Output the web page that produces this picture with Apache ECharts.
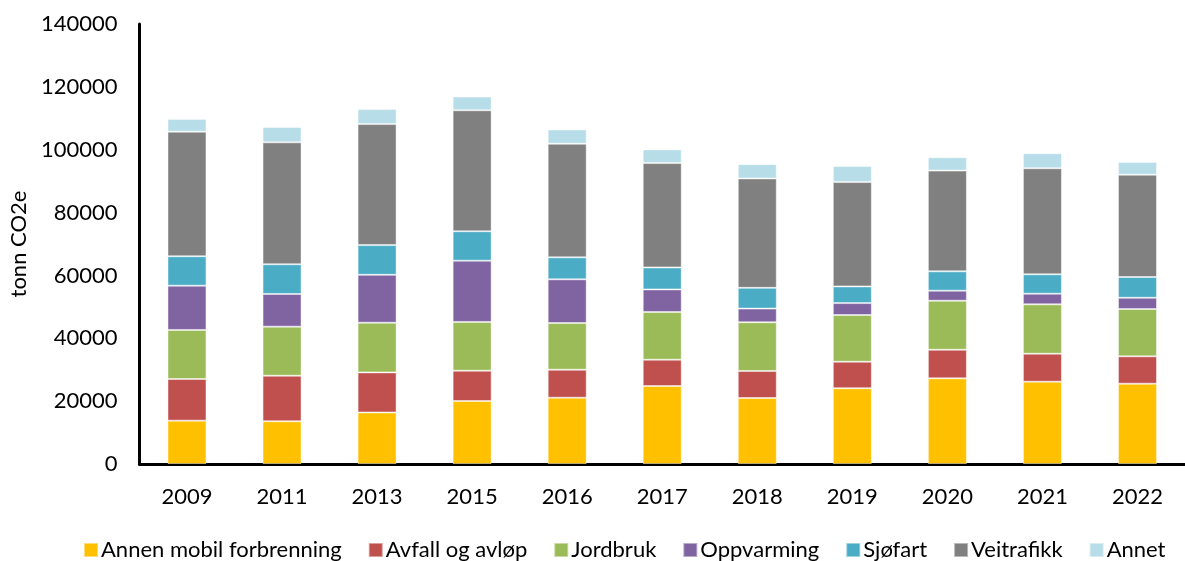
<!DOCTYPE html>
<html>
<head>
<meta charset="utf-8">
<script src="https://cdn.jsdelivr.net/npm/echarts@6/dist/echarts.min.js"></script>
<style>
  html, body { margin: 0; padding: 0; background: #fff; }
  #chart { width: 1185px; height: 561px; }
</style>
</head>
<body>
<div id="chart"></div>
<script>
var years = ['2009', '2011', '2013', '2015', '2016', '2017', '2018', '2019', '2020', '2021', '2022'];

var annenMobil  = [13800, 13600, 16400, 20050, 21100, 24800, 21000, 24100, 27250, 26200, 25550];
var avfall      = [13250, 14500, 12750, 9650, 8900, 8400, 8600, 8450, 9100, 8900, 8700];
var jordbruk    = [15600, 15600, 15800, 15500, 14850, 15150, 15500, 14850, 15600, 15700, 15050];
var oppvarming  = [14100, 10400, 15250, 19500, 13900, 7200, 4350, 3800, 3200, 3400, 3600];
var sjofart     = [9350, 9450, 9450, 9350, 7000, 7000, 6600, 5300, 6150, 6150, 6600];
var veitrafikk  = [39650, 38800, 38500, 38500, 36150, 33200, 34800, 33200, 32050, 33750, 32550];
var annet       = [4050, 4900, 4770, 4350, 4550, 4350, 4550, 5100, 4250, 4800, 4050];

var seriesNames = ['Annen mobil forbrenning', 'Avfall og avløp', 'Jordbruk', 'Oppvarming', 'Sjøfart', 'Veitrafikk', 'Annet'];
var seriesData = [annenMobil, avfall, jordbruk, oppvarming, sjofart, veitrafikk, annet];
var colors = ['#FFC000', '#C0504D', '#9BBB59', '#8064A2', '#4BACC6', '#808080', '#B7DEE8'];

var FONT = 'Lato';

function buildSeries() {
    return seriesNames.map(function (name, i) {
        return {
            name: name,
            type: 'bar',
            stack: 'total',
            barWidth: 39,
            data: seriesData[i],
            itemStyle: {
                color: colors[i],
                borderColor: 'rgba(255,255,255,0.45)',
                borderWidth: 1
            }
        }
    })
}

var chart = echarts.init(document.getElementById('chart'));
chart.setOption({
    animation: false,
    color: colors,
    grid: {
        left: 139,
        right: -13,
        top: 24,
        bottom: 97
    },
    legend: {
        top: 534,
        left: 78,
        itemWidth: 14,
        itemHeight: 14,
        itemGap: 26,
        icon: 'rect',
        textStyle: {
            fontFamily: FONT,
            fontSize: 22,
            color: '#000',
            padding: [0, 0, 0, -2]
        },
        data: seriesNames
    },
    xAxis: {
        type: 'category',
        data: years,
        axisLine: { lineStyle: { color: '#000', width: 3 } },
        axisTick: { show: false },
        axisLabel: {
            margin: 22,
            fontFamily: FONT,
            fontSize: 22,
            color: '#000'
        }
    },
    yAxis: {
        type: 'value',
        min: 0,
        max: 140000,
        interval: 20000,
        name: 'tonn CO2e',
        nameLocation: 'middle',
        nameGap: 108,
        nameTextStyle: {
            fontFamily: FONT,
            fontSize: 22,
            color: '#000'
        },
        axisLine: { show: true, lineStyle: { color: '#000', width: 3 } },
        axisTick: { show: false },
        splitLine: { show: false },
        axisLabel: {
            margin: 22,
            fontFamily: FONT,
            fontSize: 22,
            color: '#000',
            formatter: function (v) { return String(v); }
        }
    },
    series: buildSeries()
});
</script>
</body>
</html>
